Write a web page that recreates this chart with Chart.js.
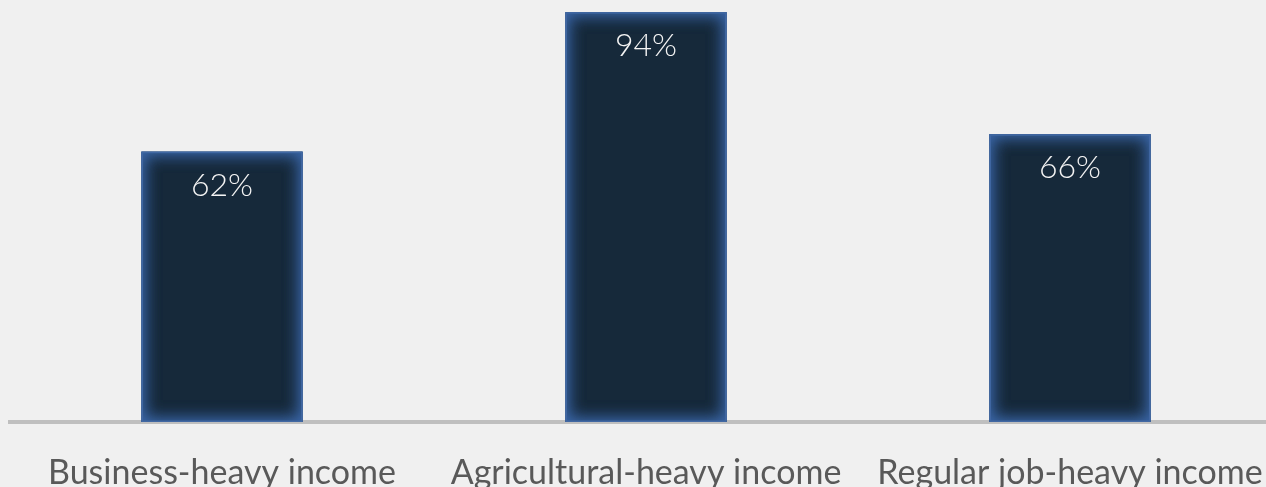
<!DOCTYPE html>
<html lang="en">
<head>
<meta charset="UTF-8">
<title>Income type share</title>
<script src="https://cdn.jsdelivr.net/npm/chart.js"></script>
<style>
  html, body {
    margin: 0;
    padding: 0;
    background-color: #f0f0f0;
    overflow: hidden;
    width: 1266px;
    height: 487px;
  }
  .chart-wrap {
    position: absolute;
    left: 0;
    top: -14px;
    width: 1290px;
    height: 501px;
  }
</style>
</head>
<body>
<div class="chart-wrap">
  <canvas id="barChart" width="1290" height="501"></canvas>
</div>
<script>
const categories = ['Business-heavy income', 'Agricultural-heavy income', 'Regular job-heavy income'];
const shares = [62, 94, 66];

// inner blue glow on each bar, then the percentage inside it
const barDecor = {
  id: 'barDecor',
  afterDatasetsDraw(chart) {
    const ctx = chart.ctx;
    const meta = chart.getDatasetMeta(0);
    meta.data.forEach((bar, i) => {
      const left = bar.x - bar.width / 2;
      const top = bar.y;
      const w = bar.width;
      const h = bar.base - bar.y;

      ctx.save();
      ctx.beginPath();
      ctx.rect(left, top, w, h);
      ctx.clip();
      ctx.shadowColor = 'rgba(58, 102, 168, 1)';
      ctx.shadowBlur = 18;
      ctx.shadowOffsetX = 0;
      ctx.shadowOffsetY = 0;
      ctx.fillStyle = '#34598d';
      for (let k = 0; k < 2; k++) {
        ctx.beginPath();
        ctx.rect(left - 60, top - 60, w + 120, h + 120);
        ctx.rect(left, top, w, h);
        ctx.fill('evenodd');
      }
      ctx.restore();

      ctx.save();
      ctx.strokeStyle = '#4168a3';
      ctx.lineWidth = 1.5;
      ctx.strokeRect(left + 0.75, top + 0.75, w - 1.5, h - 1.5);
      ctx.restore();

      ctx.save();
      ctx.fillStyle = '#f4f4f4';
      ctx.font = '300 32px Lato, "Open Sans", sans-serif';
      ctx.textAlign = 'center';
      ctx.textBaseline = 'alphabetic';
      ctx.fillText(shares[i] + '%', bar.x, top + 44);
      ctx.restore();
    });
  }
};

const ctx = document.getElementById('barChart').getContext('2d');
new Chart(ctx, {
  type: 'bar',
  data: {
    labels: categories,
    datasets: [{
      data: shares,
      backgroundColor: '#16293a',
      borderWidth: 0,
      categoryPercentage: 1.0,
      barPercentage: 0.38
    }]
  },
  options: {
    responsive: false,
    animation: false,
    layout: { padding: { left: 10, right: 8, top: 0, bottom: 0 } },
    plugins: {
      legend: { display: false },
      tooltip: { enabled: false }
    },
    scales: {
      y: {
        display: false,
        min: 0,
        max: 100
      },
      x: {
        grid: { display: false, drawTicks: false },
        border: { display: true, color: '#bfbfbf', width: 4 },
        ticks: {
          color: '#595959',
          font: { family: 'Lato, "Open Sans", sans-serif', size: 34 },
          padding: 31,
          maxRotation: 0,
          autoSkip: false
        },
        afterFit(scale) {
          // fixed axis height, and no extra side room for the long labels
          scale.height = 65;
          scale.paddingLeft = 0;
          scale.paddingRight = 0;
        }
      }
    }
  },
  plugins: [barDecor]
});
</script>
</body>
</html>
